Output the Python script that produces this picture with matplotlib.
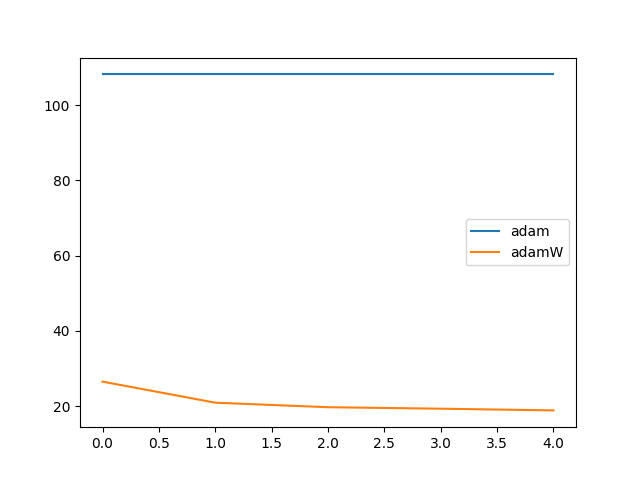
import matplotlib
matplotlib.use("Agg")
import matplotlib.pyplot as plt

# loss per epoch for two optimisers
epochs = [0, 1, 2, 3, 4]
adam_loss = [108.2, 108.2, 108.2, 108.2, 108.2]
adamw_loss = [26.5, 20.9, 19.7, 19.3, 18.85]

fig, ax = plt.subplots(figsize=(6.4, 4.8), dpi=100)
ax.plot(epochs, adam_loss, label="adam")
ax.plot(epochs, adamw_loss, label="adamW")
ax.legend()

plt.savefig("out.png", dpi=100)
